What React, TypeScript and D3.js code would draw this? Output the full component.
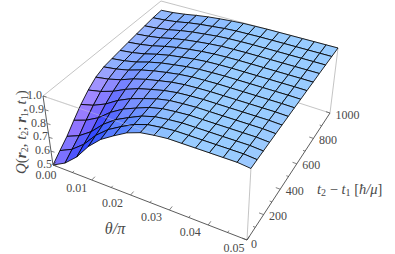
import React from 'react';
import * as d3 from 'd3';

const thetaTicks = [0, 0.01, 0.02, 0.03, 0.04, 0.05];
const thetaMinor = [0.005, 0.015, 0.025, 0.035, 0.045];
const timeTicks = [0, 200, 400, 600, 800, 1000];
const timeMinor = [100, 300, 500, 700, 900];
const qTicks = [0.5, 0.6, 0.7, 0.8, 0.9, 1.0];

// Q, one row per t mesh line (t = 0 first), one column per theta mesh line
const qRows = [
  [0.5, 0.55, 0.63, 0.74, 0.825, 0.885, 0.94, 0.975, 0.99, 1, 1, 1, 1, 1, 1, 0.99],
  [0.55, 0.595, 0.667, 0.766, 0.842, 0.897, 0.946, 0.978, 0.991, 1, 1, 1, 1, 1, 1, 0.992],
  [0.6, 0.64, 0.704, 0.792, 0.86, 0.908, 0.952, 0.98, 0.992, 1, 1, 1, 1, 1, 1, 0.993],
  [0.665, 0.7, 0.752, 0.826, 0.883, 0.923, 0.96, 0.983, 0.993, 1, 1, 1, 1, 1, 1, 0.994],
  [0.73, 0.757, 0.8, 0.86, 0.905, 0.938, 0.968, 0.987, 0.995, 1, 1, 1, 1, 1, 1, 0.995],
  [0.785, 0.807, 0.841, 0.888, 0.925, 0.951, 0.974, 0.989, 0.996, 1, 1, 1, 1, 1, 1, 0.996],
  [0.83, 0.847, 0.874, 0.912, 0.94, 0.961, 0.98, 0.992, 0.997, 1, 1, 1, 1, 1, 1, 0.997],
  [0.855, 0.87, 0.893, 0.925, 0.949, 0.967, 0.983, 0.993, 0.997, 1, 1, 1, 1, 1, 1, 0.998],
  [0.865, 0.879, 0.9, 0.93, 0.953, 0.969, 0.984, 0.993, 0.997, 1, 1, 1, 1, 1, 1, 0.998],
  [0.875, 0.888, 0.908, 0.935, 0.956, 0.971, 0.985, 0.994, 0.998, 1, 1, 1, 1, 1, 1, 0.999],
  [0.885, 0.897, 0.915, 0.94, 0.96, 0.974, 0.986, 0.994, 0.998, 1, 1, 1, 1, 1, 1, 0.999],
  [0.895, 0.906, 0.922, 0.945, 0.963, 0.976, 0.987, 0.995, 0.998, 1, 1, 1, 1, 1, 1, 1],
  [0.905, 0.915, 0.93, 0.951, 0.967, 0.978, 0.989, 0.995, 0.998, 1, 1, 1, 1, 1, 1, 1],
  [0.915, 0.924, 0.937, 0.956, 0.97, 0.98, 0.99, 0.996, 0.998, 1, 1, 1, 1, 1, 1, 1],
  [0.92, 0.928, 0.941, 0.958, 0.972, 0.982, 0.99, 0.996, 0.998, 1, 1, 1, 1, 1, 1, 1],
];

// box corners on screen: [theta side][time side]
const floorCorners = [[[53, 165], [163, 59]], [[247, 240], [330, 113]]];
const topCorners = [[[43, 96], [161, 1]], [[251, 167], [338, 48]]];

const vScale = d3.scaleLinear().domain([0, 0.05]).range([0, 1]);
const uScale = d3.scaleLinear().domain([0, 1000]).range([0, 1]);
const zScale = d3.scaleLinear().domain([0.5, 1]).range([0, 1]);

const mix = (a: number[], b: number[], k: number) => [a[0] + (b[0] - a[0]) * k, a[1] + (b[1] - a[1]) * k];

const bilerp = (c: number[][][], v: number, u: number) =>
  mix(mix(c[0][0], c[1][0], v), mix(c[0][1], c[1][1], v), u);

const project = (theta: number, time: number, q: number) => {
  const v = vScale(theta);
  const u = uScale(time);
  return mix(bilerp(floorCorners, v, u), bilerp(topCorners, v, u), zScale(q));
};

const thetaStep = 0.05 / (qRows[0].length - 1);
const timeStep = 1000 / (qRows.length - 1);

// rough lighting: flat = pale blue, steep in theta = deep blue, steep in t = violet
const cellColor = (i: number, j: number) => {
  const dTheta = (qRows[i][j + 1] + qRows[i + 1][j + 1] - qRows[i][j] - qRows[i + 1][j]) / 2;
  const dTime = (qRows[i + 1][j] + qRows[i + 1][j + 1] - qRows[i][j] - qRows[i][j + 1]) / 2;
  const b = Math.max(0, Math.min(dTheta / 0.09, 1));
  const p = Math.pow(Math.max(0, Math.min(dTime / 0.06, 1)), 0.7);
  const r = 153 - 130 * b + 45 * p;
  const g = 204 - 100 * b - 45 * p;
  return d3.rgb(r, g, 255).formatRgb();
};

const line = d3.line();
const font = '"Liberation Serif", serif';
const grey = '#4a4a4a';

const Tick = ({ a, b, width = 0.7 }: { a: number[]; b: number[]; width?: number }) => (
  <line x1={a[0]} y1={a[1]} x2={b[0]} y2={b[1]} stroke={grey} strokeWidth={width} />
);

const thetaLabelNudge = [[-7, 10], [-15, 8], [-18, 8], [-18, 7], [-18, 7], [-13, 8]];

export default function App() {
  const cells: React.ReactNode[] = [];
  for (let i = qRows.length - 2; i >= 0; i--) {
    for (let j = 0; j < qRows[0].length - 1; j++) {
      const pts = [
        project(j * thetaStep, i * timeStep, qRows[i][j]),
        project((j + 1) * thetaStep, i * timeStep, qRows[i][j + 1]),
        project((j + 1) * thetaStep, (i + 1) * timeStep, qRows[i + 1][j + 1]),
        project(j * thetaStep, (i + 1) * timeStep, qRows[i + 1][j]),
      ] as [number, number][];
      cells.push(
        <path key={`${i}-${j}`} d={line(pts) + 'Z'} fill={cellColor(i, j)} stroke="#000" strokeWidth={0.85} strokeLinejoin="round" />
      );
    }
  }

  const zTop = 1;
  const zBase = 0.5;
  const axisLine = (a: number[], b: number[], color: string, w: number, opacity = 1) => (
    <line x1={a[0]} y1={a[1]} x2={b[0]} y2={b[1]} stroke={color} strokeWidth={w} opacity={opacity} />
  );

  return (
    <svg width={395} height={254} style={{ position: 'fixed', left: 0, top: 0, background: '#fff' }} fontFamily={font}>
      {/* back of the box */}
      {axisLine(project(0, 0, zTop), project(0, 1000, zTop), '#bdbdbd', 0.9)}
      {axisLine(project(0, 1000, zTop), project(0.05, 1000, zTop), '#bdbdbd', 0.9)}
      {axisLine(project(0, 0, zTop), project(0.05, 0, zTop), '#bdbdbd', 0.9)}
      {axisLine(project(0, 1000, zBase), project(0.05, 1000, zBase), '#bdbdbd', 0.9)}
      {axisLine(project(0.05, 1000, zBase), project(0.05, 1000, zTop), '#bdbdbd', 0.9)}
      {axisLine(project(0.05, 0, zBase), project(0.05, 0, zTop), '#bdbdbd', 0.9)}

      {cells}

      {/* front top edge shows faintly across the surface */}
      {axisLine(project(0, 0, zTop), project(0.028, 0, zTop), '#d8d8d8', 0.8, 0.45)}

      {/* axes */}
      {axisLine(project(0, 0, zBase), project(0.05, 0, zBase), grey, 0.9)}
      {axisLine(project(0.05, 0, zBase), project(0.05, 1000, zBase), grey, 0.9)}
      {axisLine(project(0, 0, zBase), project(0, 0, zTop), grey, 0.9)}

      {thetaTicks.map((d, k) => {
        const p = project(d, 0, zBase);
        return (
          <g key={d}>
            <Tick a={p} b={project(d, 30, zBase)} />
            <text x={p[0] + thetaLabelNudge[k][0]} y={p[1] + thetaLabelNudge[k][1] + 4} fontSize={12} fill={grey} textAnchor="middle">
              {d.toFixed(2)}
            </text>
          </g>
        );
      })}
      {thetaMinor.map(d => (
        <Tick key={d} a={project(d, 0, zBase)} b={project(d, 15, zBase)} />
      ))}

      {timeTicks.map(d => {
        const p = project(0.05, d, zBase);
        return (
          <g key={d}>
            <Tick a={p} b={project(0.0488, d, zBase)} />
            <text x={p[0] + (d === 0 ? 4 : 5.5)} y={p[1] + (d === 0 ? 8 : 5.5)} fontSize={12} fill={grey}>
              {d}
            </text>
          </g>
        );
      })}
      {timeMinor.map(d => (
        <Tick key={d} a={project(0.05, d, zBase)} b={project(0.0494, d, zBase)} />
      ))}

      {qTicks.map(d => {
        const p = project(0, 0, d);
        return (
          <g key={d}>
            <Tick a={p} b={[p[0] + 3.5, p[1] + 1]} />
            <text x={p[0] - 1} y={p[1] + 3} fontSize={12} fill={grey} textAnchor="end">
              {d.toFixed(1)}
            </text>
          </g>
        );
      })}

      {/* titles */}
      <text x={115} y={234} fontSize={16} fill={grey} textAnchor="middle" fontStyle="italic">
        θ/π
      </text>
      <text transform="translate(26,174) rotate(-90)" fontSize={15} fill={grey}>
        <tspan fontStyle="italic">Q</tspan>(<tspan fontWeight="bold" fontStyle="italic">r</tspan>
        <tspan fontSize={10} dy={2}>2</tspan>
        <tspan dy={-2}>, </tspan>
        <tspan fontStyle="italic">t</tspan>
        <tspan fontSize={10} dy={2}>2</tspan>
        <tspan dy={-2}>; </tspan>
        <tspan fontWeight="bold" fontStyle="italic">r</tspan>
        <tspan fontSize={10} dy={2}>1</tspan>
        <tspan dy={-2}>, </tspan>
        <tspan fontStyle="italic">t</tspan>
        <tspan fontSize={10} dy={2}>1</tspan>
        <tspan dy={-2}>)</tspan>
      </text>
      <text x={317} y={194} fontSize={14.5} fill={grey}>
        <tspan fontStyle="italic">t</tspan>
        <tspan fontSize={10} dy={2}>2</tspan>
        <tspan dy={-2}> − </tspan>
        <tspan fontStyle="italic">t</tspan>
        <tspan fontSize={10} dy={2}>1</tspan>
        <tspan dy={-2}> [</tspan>
        <tspan fontStyle="italic">ħ/μ</tspan>]
      </text>
    </svg>
  );
}
